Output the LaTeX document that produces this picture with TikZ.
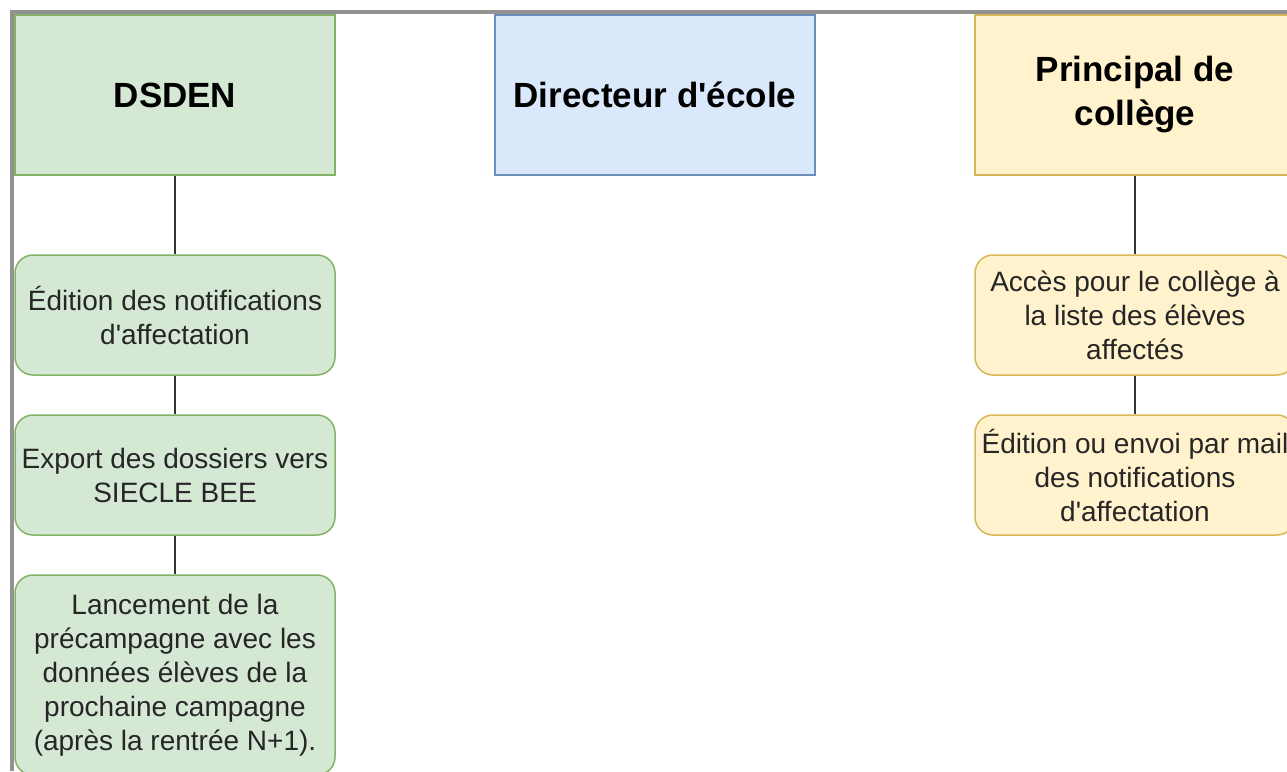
\documentclass[tikz,border=0pt]{standalone}
\usepackage{fontspec}
\setmainfont{Liberation Sans}
\usepackage{tikz}
\definecolor{vertfond}{HTML}{D5E8D4}
\definecolor{vertbord}{HTML}{82B366}
\definecolor{bleufond}{HTML}{DAE8FC}
\definecolor{bleubord}{HTML}{6C8EBF}
\definecolor{jaunefond}{HTML}{FFF2CC}
\definecolor{jaunebord}{HTML}{D6B656}
\definecolor{cadre}{HTML}{929292}

\begin{document}
\begin{tikzpicture}[x=1pt, y=-1pt,
    titre/.style={rectangle, draw, line width=1.5pt, minimum width=320pt, minimum height=160pt, inner sep=0pt, align=center, font=\fontsize{35}{44}\selectfont\bfseries},
    tache/.style={rectangle, rounded corners=18pt, draw, line width=1.5pt, minimum width=320pt, minimum height=120pt, inner sep=0pt, align=center, font=\fontsize{28}{34}\selectfont, text=black!85},
    lien/.style={line width=1.5pt, black!80}]
        \useasboundingbox (0,0) rectangle (1287,771);
        \clip (0,0) rectangle (1287,771);
        \begin{scope}
            \draw [line width=4pt, cadre] (12,771) -- (12,12) -- (1287,12);
            \node [titre, fill = vertfond, draw = vertbord] (d) at (175,95) {DSDEN};
            \node [titre, fill = bleufond, draw = bleubord] (e) at (655,95) {Directeur d\textquotesingle école};
            \node [titre, fill = jaunefond, draw = jaunebord] (p) at (1135,95) {Principal de\\collège};
            \node [tache, fill = vertfond, draw = vertbord] (d1) at (175,315) {Édition des notifications\\d\textquotesingle affectation};
            \node [tache, fill = vertfond, draw = vertbord] (d2) at (175,475) {Export des dossiers vers\\SIECLE BEE};
            \node [tache, fill = vertfond, draw = vertbord, minimum height=200pt] (d3) at (175,675) {Lancement de la\\précampagne avec les\\données élèves de la\\prochaine campagne\\(après la rentrée N+1).};
            \node [tache, fill = jaunefond, draw = jaunebord] (p1) at (1135,315) {Accès pour le collège à\\la liste des élèves\\affectés};
            \node [tache, fill = jaunefond, draw = jaunebord] (p2) at (1135,475) {Édition ou envoi par mail\\des notifications\\d\textquotesingle affectation};
            \draw [lien] (d) -- (d1);
            \draw [lien] (d1) -- (d2);
            \draw [lien] (d2) -- (d3);
            \draw [lien] (p) -- (p1);
            \draw [lien] (p1) -- (p2);
        \end{scope}
\end{tikzpicture}
\end{document}
